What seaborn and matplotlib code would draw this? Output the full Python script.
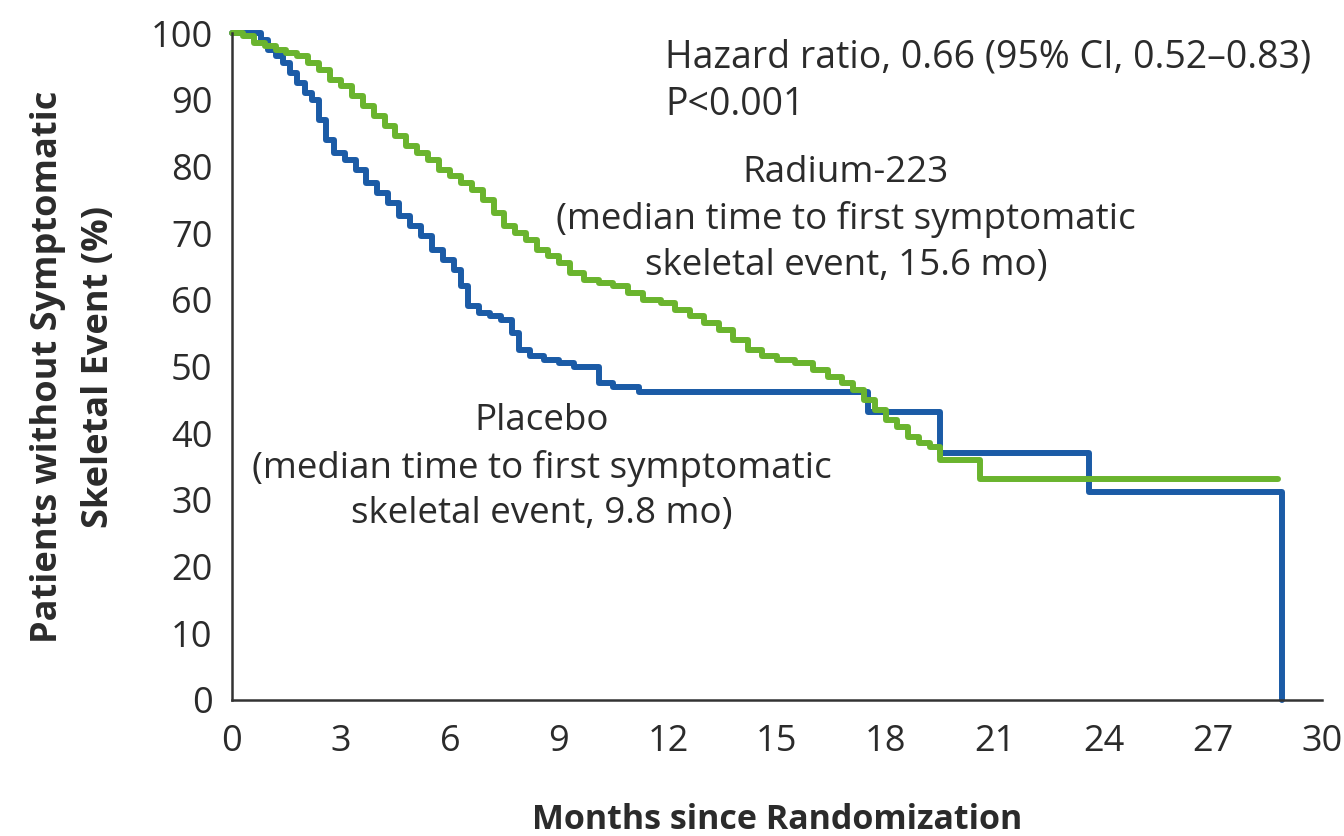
import numpy as np
import pandas as pd
import matplotlib
matplotlib.use("Agg")
import matplotlib.pyplot as plt
import seaborn as sns

# ---- Data ----
placebo_t = [0, 0.8, 1.0, 1.2, 1.4, 1.6, 1.8, 2.0, 2.2, 2.4, 2.6, 2.8, 3.1, 3.4, 3.7,
             4.0, 4.3, 4.6, 4.9, 5.2, 5.5, 5.8, 6.1, 6.3, 6.5, 6.8, 7.1, 7.4, 7.7, 7.9,
             8.2, 8.6, 9.0, 9.4, 10.1, 10.5, 11.2, 17.5, 19.5, 23.6, 28.9]
placebo_s = [100, 99, 97.5, 96.5, 95.5, 94, 92.5, 91, 90, 87, 84, 82, 81, 79.5, 77.5,
             76, 74.5, 72.5, 71, 69.5, 67.5, 66, 64.5, 62, 59, 58, 57.5, 57, 55, 52.5,
             51.5, 51, 50.5, 50, 47.5, 47, 46.2, 43.2, 37, 31.2, 0]

radium_t = [0, 0.3, 0.6, 0.9, 1.2, 1.5, 1.8, 2.1, 2.4, 2.7, 3.0, 3.3, 3.6, 3.9, 4.2,
            4.5, 4.8, 5.1, 5.4, 5.7, 6.0, 6.3, 6.6, 6.9, 7.2, 7.5, 7.8, 8.1, 8.4, 8.7,
            9.0, 9.3, 9.7, 10.1, 10.5, 10.9, 11.3, 11.8, 12.2, 12.6, 13.0, 13.4, 13.8,
            14.2, 14.6, 15.0, 15.5, 16.0, 16.4, 16.8, 17.1, 17.4, 17.7, 18.0, 18.3,
            18.6, 18.9, 19.2, 19.5, 20.6, 28.8]
radium_s = [100, 99.5, 98.5, 98, 97.5, 97, 96.5, 95.5, 94.5, 93, 92, 90.5, 89, 87.5, 86,
            84.5, 83, 82, 81, 79.5, 78.5, 77.5, 76.5, 75, 73, 71, 70, 69, 67.5, 66.5,
            65.5, 64, 63, 62.5, 62, 61, 60, 59.5, 58.5, 57.5, 56.5, 55.5, 54,
            52.5, 51.5, 51, 50.5, 49.5, 48.5, 47.5, 46.5, 45, 43.5, 42, 41,
            39.5, 38.5, 38, 36, 33.1, 33.1]

x_ticks = [0, 3, 6, 9, 12, 15, 18, 21, 24, 27, 30]
y_ticks = [0, 10, 20, 30, 40, 50, 60, 70, 80, 90, 100]

groups = ["Placebo", "Radium-223"]
colors = {"Placebo": "#1b5ba6", "Radium-223": "#6ab42e"}

df = pd.concat([
    pd.DataFrame({"Months": placebo_t, "Pct": placebo_s, "Group": "Placebo"}),
    pd.DataFrame({"Months": radium_t, "Pct": radium_s, "Group": "Radium-223"}),
], ignore_index=True)

# ---- Style ----
sns.set_style("white")
plt.rcParams["font.family"] = ["Open Sans", "DejaVu Sans"]
txt = "#2b2b2b"

fig = plt.figure(figsize=(13.44, 8.36), dpi=100)
ax = fig.add_axes([0.1726, 0.1627, 0.8110, 0.7978])

for g in groups:
    sub = df[df["Group"] == g]
    sns.lineplot(data=sub, x="Months", y="Pct", ax=ax, color=colors[g],
                 drawstyle="steps-post", estimator=None, sort=False,
                 linewidth=4.3, legend=False, clip_on=False)

ax.set_xlim(0, 30)
ax.set_ylim(0, 100)
ax.set_xticks(x_ticks)
ax.set_yticks(y_ticks)
ax.set_xticklabels([str(v) for v in x_ticks])
ax.set_yticklabels([str(v) for v in y_ticks])

for s in ["top", "right"]:
    ax.spines[s].set_visible(False)
for s in ["left", "bottom"]:
    ax.spines[s].set_color("#333333")
    ax.spines[s].set_linewidth(1.8)

ax.tick_params(axis="both", direction="out", colors="#333333", width=1.8,
               labelsize=26, labelcolor=txt)
ax.tick_params(axis="x", length=13, pad=4)
ax.tick_params(axis="y", length=11, pad=3)

ax.set_xlabel("Months since Randomization", fontsize=24.5, fontweight="bold",
              color=txt, labelpad=31)
ax.set_ylabel("Patients without Symptomatic\nSkeletal Event (%)", fontsize=26,
              fontweight="bold", color=txt, labelpad=24, linespacing=1.55)

ax.text(11.92, 99.15, "Hazard ratio, 0.66 (95% CI, 0.52\u20130.83)\nP<0.001",
        fontsize=27, color=txt, ha="left", va="top", linespacing=1.33)
ax.text(16.9, 72.0, "Radium-223\n(median time to first symptomatic\nskeletal event, 15.6 mo)",
        fontsize=26.5, color=txt, ha="center", va="center", linespacing=1.36)
ax.text(8.53, 34.8, "Placebo\n(median time to first symptomatic\nskeletal event, 9.8 mo)",
        fontsize=26.5, color=txt, ha="center", va="center", linespacing=1.36)

fig.savefig("out.png", dpi=100)
